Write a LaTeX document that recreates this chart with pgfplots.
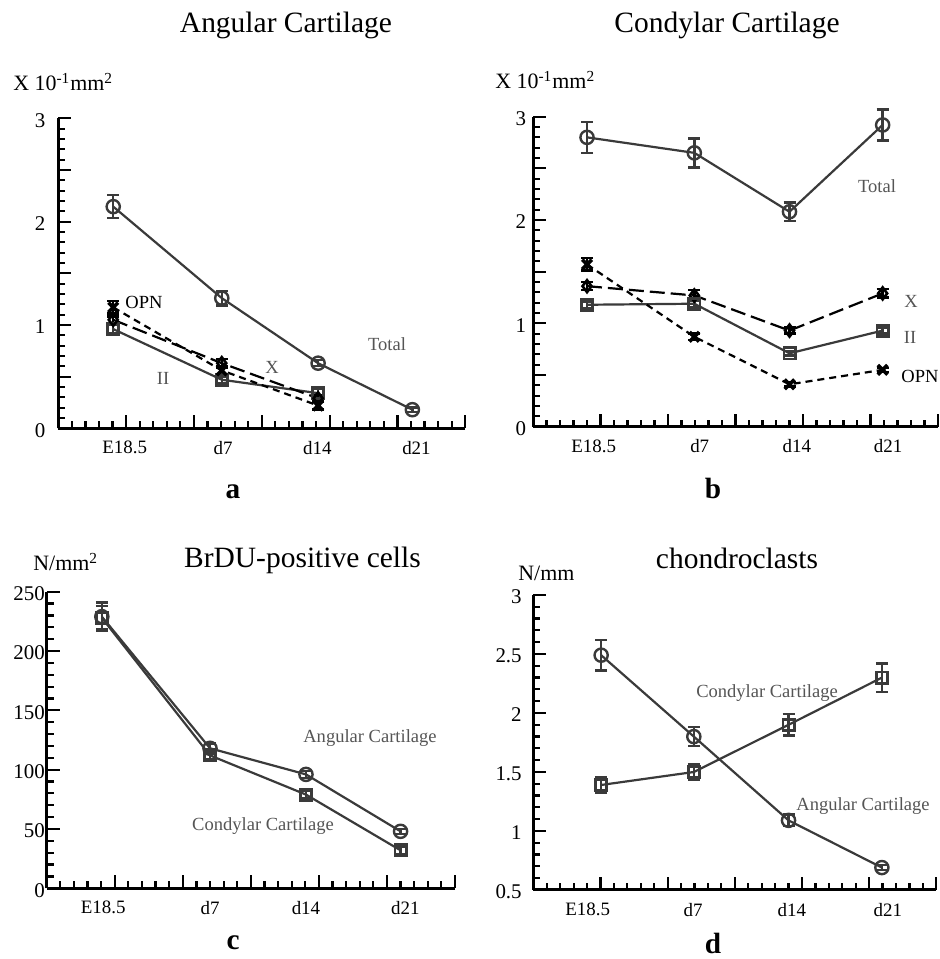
\documentclass[border=0pt]{standalone}
\usepackage{fontspec}
\setmainfont{Liberation Serif}
\usepackage{pgfplots}
\pgfplotsset{compat=1.18}
\definecolor{ln}{HTML}{3A3A3A}
\definecolor{lbl}{HTML}{555555}

\pgfplotsset{
  panel/.style={
    scale only axis, clip=false,
    axis lines=left, axis line style={-, line width=1.5bp, black},
    tick align=inside,
    xmin=0, xmax=6, xtick={0,...,6}, xticklabels={,,,,,,},
    minor x tick num=4, minor y tick num=4,
    major tick length=6.5bp, minor tick length=3.5bp,
    tick style={black, line width=1.1bp},
    /pgf/number format/assume math mode=true,
    yticklabel style={font=\fontsize{10.5}{12}\selectfont, yshift=-1bp},
    extra x tick style={major tick length=0pt,
      xticklabel style={font=\fontsize{9.5}{11}\selectfont, yshift=-3bp}},
    extra x tick labels={E18.5,d7,d14,d21},
  },
  eb/.style={error bars/y dir=both, error bars/y explicit,
    error bars/error bar style={line width=1.2bp, solid},
    error bars/error mark options={rotate=90, mark size=3bp, line width=1.2bp, solid}},
  tot/.style={ln, line width=1.1bp, mark=o, mark size=3.3bp, mark options={solid, line width=1.2bp}, eb},
  two/.style={ln, line width=1.1bp, mark=square, mark size=2.8bp, mark options={solid, line width=1.4bp}, eb},
  ten/.style={black, line width=1.1bp, dash pattern=on 7.5bp off 3bp, mark=diamond, mark size=3bp, mark options={solid, line width=1.3bp}, eb},
  opn/.style={black, line width=1.1bp, dash pattern=on 3.5bp off 2.5bp, mark=x, mark size=3.4bp, mark options={solid, line width=1.8bp}, eb},
}

\begin{document}
\begin{tikzpicture}
\path[use as bounding box] (0,0) rectangle (470bp,479.5bp);

% a: Angular Cartilage
\begin{axis}[panel, at={(29.15bp,265.35bp)}, anchor=south west,
  width=203.5bp, height=155bp, ymin=0, ymax=3,
  ytick={0,0.5,...,3}, yticklabels={0,,1,,2,,3},
  yticklabel style={xshift=-3bp},
  extra x ticks={0.98,2.43,3.82,5.28}]
\addplot[tot] coordinates {(0.81,2.145) +- (0,0.11) (2.41,1.26) +- (0,0.07) (3.83,0.63) +- (0,0.03) (5.22,0.18) +- (0,0.02)};
\addplot[two] coordinates {(0.81,0.96) +- (0,0.04) (2.41,0.47) +- (0,0.03) (3.83,0.34) +- (0,0.04)};
\addplot[ten] coordinates {(0.81,1.05) +- (0,0.03) (2.41,0.63) +- (0,0.04) (3.83,0.29) +- (0,0.03)};
\addplot[opn] coordinates {(0.81,1.17) +- (0,0.06) (2.41,0.56) +- (0,0.04) (3.83,0.22) +- (0,0.04)};
\end{axis}

% b: Condylar Cartilage
\begin{axis}[panel, at={(266.5bp,266.15bp)}, anchor=south west,
  width=202.5bp, height=155bp, ymin=0, ymax=3,
  ytick={0,0.5,...,3}, yticklabels={0,,1,,2,,3},
  extra x ticks={0.90,2.47,3.91,5.26}]
\addplot[tot] coordinates {(0.80,2.80) +- (0,0.15) (2.39,2.65) +- (0,0.14) (3.80,2.08) +- (0,0.09) (5.18,2.92) +- (0,0.15)};
\addplot[ten] coordinates {(0.80,1.36) +- (0,0.04) (2.39,1.27) +- (0,0.05) (3.80,0.93) +- (0,0.03) (5.18,1.29) +- (0,0.04)};
\addplot[two] coordinates {(0.80,1.18) +- (0,0.03) (2.39,1.19) +- (0,0.03) (3.80,0.71) +- (0,0.02) (5.18,0.93) +- (0,0.03)};
\addplot[opn] coordinates {(0.80,1.57) +- (0,0.06) (2.39,0.87) +- (0,0.03) (3.80,0.41) +- (0,0.02) (5.18,0.55) +- (0,0.02)};
\end{axis}

% c: BrDU-positive cells
\begin{axis}[panel, at={(23.35bp,35.35bp)}, anchor=south west,
  width=204.15bp, height=148.3bp, ymin=0, ymax=250,
  ytick={0,50,...,250}, yticklabel style={xshift=2.6bp},
  extra x ticks={0.83,2.40,3.81,5.27}]
\addplot[tot] coordinates {(0.81,229) +- (0,12) (2.40,118) +- (0,4) (3.81,96) +- (0,3) (5.20,48) +- (0,2)};
\addplot[two] coordinates {(0.81,228) +- (0,10) (2.40,112) +- (0,3) (3.81,79) +- (0,3) (5.20,32) +- (0,3)};
\end{axis}

% d: chondroclasts
\begin{axis}[panel, at={(266.65bp,34.5bp)}, anchor=south west,
  width=201.5bp, height=147.5bp, ymin=0.5, ymax=3,
  ytick={0.5,1,...,3}, yticklabel style={xshift=-2.3bp},
  extra x ticks={0.81,2.38,3.85,5.28}]
\addplot[tot] coordinates {(1.01,2.49) +- (0,0.13) (2.39,1.80) +- (0,0.08) (3.80,1.09) +- (0,0.05) (5.19,0.69) +- (0,0.02)};
\addplot[two] coordinates {(1.01,1.39) +- (0,0.07) (2.39,1.50) +- (0,0.07) (3.80,1.90) +- (0,0.09) (5.19,2.30) +- (0,0.12)};
\end{axis}

% titles
\begin{scope}[every node/.style={font=\fontsize{14.8}{16}\selectfont, inner sep=0pt}]
\node at (143bp,467bp) {Angular Cartilage};
\node at (363.5bp,467bp) {Condylar Cartilage};
\node at (151.25bp,199.5bp) {BrDU-positive cells};
\node at (368.5bp,200.5bp) {chondroclasts};
\end{scope}

% unit labels
\begin{scope}[every node/.style={font=\fontsize{11}{13}\selectfont, inner sep=0pt, anchor=west}]
\node at (6.5bp,438.5bp) {X 10\textsuperscript{-1}mm\textsuperscript{2}};
\node at (247.5bp,439.5bp) {X 10\textsuperscript{-1}mm\textsuperscript{2}};
\node at (16.5bp,198.5bp) {N/mm\textsuperscript{2}};
\node at (259bp,193bp) {N/mm};
\end{scope}

% panel letters
\begin{scope}[every node/.style={font=\fontsize{14.7}{16}\selectfont\bfseries, inner sep=0pt, anchor=base}]
\node at (116.5bp,230bp) {a};
\node at (356.5bp,230bp) {b};
\node at (116.5bp,5bp) {c};
\node at (356.5bp,3bp) {d};
\end{scope}

% series labels
\begin{scope}[every node/.style={font=\fontsize{9.3}{11}\selectfont, inner sep=0pt, text=lbl}]
\node[text=black, anchor=west] at (62.5bp,328.5bp) {OPN};
\node at (81.5bp,290.5bp) {II};
\node at (136bp,296bp) {X};
\node at (193.5bp,307.5bp) {Total};
\node at (438.5bp,386.5bp) {Total};
\node at (455.5bp,329bp) {X};
\node at (455bp,311bp) {II};
\node[text=black] at (460bp,291.5bp) {OPN};
\node at (185bp,110.5bp) {Angular Cartilage};
\node at (131.5bp,66.5bp) {Condylar Cartilage};
\node at (383.5bp,133bp) {Condylar Cartilage};
\node at (431.5bp,76.5bp) {Angular Cartilage};
\end{scope}
\end{tikzpicture}
\end{document}
